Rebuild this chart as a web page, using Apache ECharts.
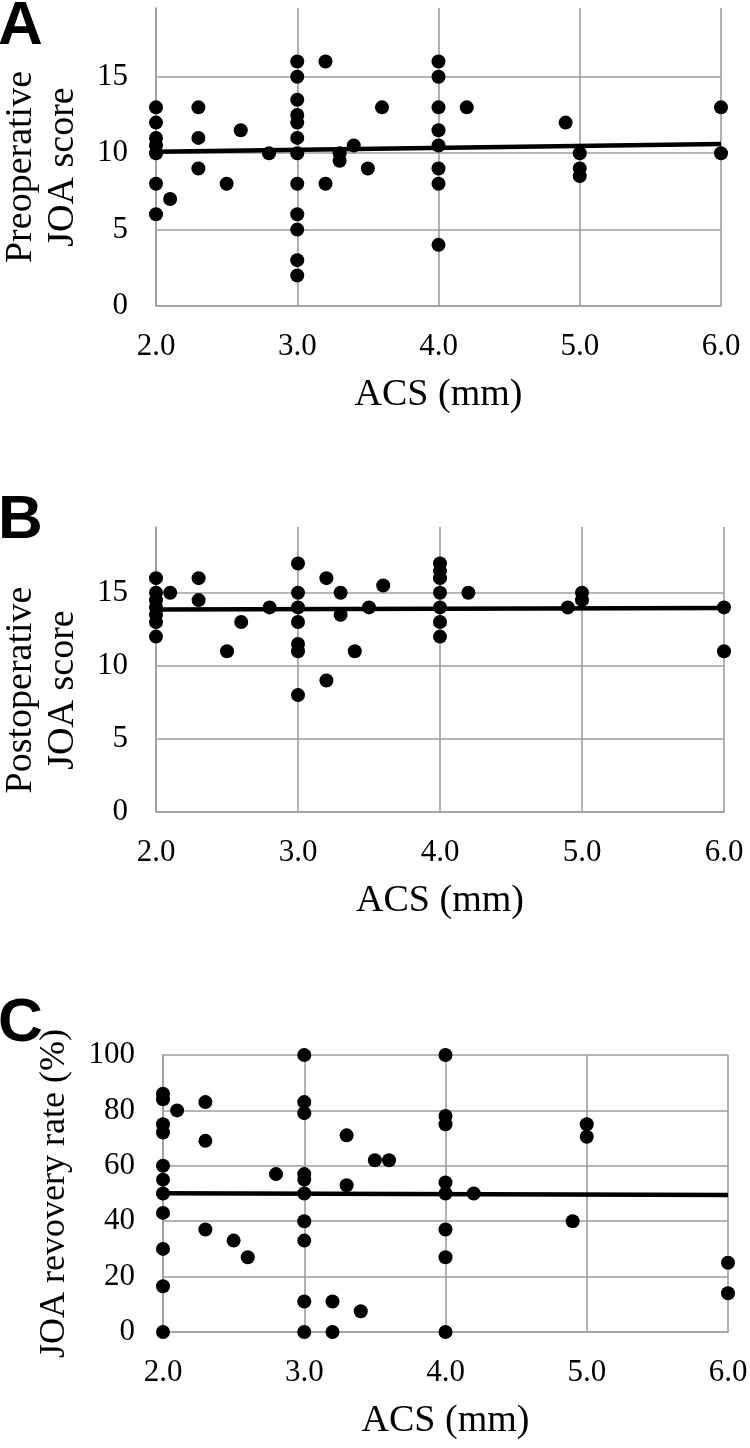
<!DOCTYPE html>
<html>
<head>
<meta charset="utf-8">
<script src="https://cdn.jsdelivr.net/npm/echarts@6/dist/echarts.min.js"></script>
<style>
html,body{margin:0;padding:0;background:#fff;}
#chart{width:750px;height:1448px;}
</style>
</head>
<body>
<div id="chart"></div>
<script>
// ---- Data ----
const xTickValues = [2, 3, 4, 5, 6];

// Panel A: ACS (mm) vs preoperative JOA score
const acsA = [2,2,2,2,2,2,2, 2.1, 2.3,2.3,2.3, 2.5, 2.6, 2.8,
  3,3,3,3,3,3,3,3,3,3,3,3, 3.2,3.2, 3.3,3.3, 3.4, 3.5, 3.6,
  4,4,4,4,4,4,4,4, 4.2, 4.9, 5,5,5, 6,6];
const preJOA = [13,12,11,10.5,10,8,6, 7, 13,11,9, 8, 11.5, 10,
  16,15,13.5,12.5,12,11,10,8,6,5,3,2, 16,8, 10,9.5, 10.5, 9, 13,
  16,15,13,11.5,10.5,9,8,4, 13, 12, 10,9,8.5, 13,10];
const trendAx = [2, 6];
const trendAy = [10.1, 10.6];

// Panel B: ACS (mm) vs postoperative JOA score
const acsB = [2,2,2,2,2,2,2, 2.1, 2.3,2.3, 2.5, 2.6, 2.8,
  3,3,3,3,3,3,3, 3.2,3.2, 3.3,3.3, 3.4, 3.5, 3.6,
  4,4,4,4,4,4,4, 4.2, 4.9, 5,5, 6,6];
const postJOA = [16,15,14.5,14,13.5,13,12, 15, 16,14.5, 11, 13, 14,
  17,15,14,13,11.5,11,8, 16,9, 15,13.5, 11, 14, 15.5,
  17,16.5,16,15,14,13,12, 15, 14, 15,14.5, 14,11];
const trendBx = [2, 6];
const trendBy = [13.85, 13.95];

// Panel C: ACS (mm) vs JOA recovery rate (%)
const acsC = [2,2,2,2,2,2,2,2,2,2,2, 2.1, 2.3,2.3,2.3, 2.5, 2.6, 2.8,
  3,3,3,3,3,3,3,3,3,3, 3.2,3.2, 3.3,3.3, 3.4, 3.5, 3.6,
  4,4,4,4,4,4,4,4, 4.2, 4.9, 5,5, 6,6];
const recoveryRate = [86,84,75,72,60,55,50,43,30,16.5,0, 80, 83,69,37, 33, 27, 57,
  100,83,79,57,55,50,40,33,11,0, 11,0, 71,53, 7.5, 62, 62,
  100,78,75,54,50,37,27,0, 50, 40, 75,70.5, 25,14];
const trendCx = [2, 6];
const trendCy = [50.1, 49.5];

const yTicksA = [0, 5, 10, 15];
const yTicksC = [0, 20, 40, 60, 80, 100];

// ---- Helpers ----
const SERIF = '"Liberation Serif", "Times New Roman", serif';
const GRIDC = '#9e9e9e';
const zip = (xs, ys) => xs.map((x, i) => [x, ys[i]]);

function xAxisCfg(gi) {
  return {
    type: 'value', gridIndex: gi, min: 2, max: 6, interval: 1,
    name: 'ACS (mm)', nameLocation: 'middle', nameGap: 70,
    nameTextStyle: { fontFamily: SERIF, fontSize: 38, color: '#000' },
    axisLine: { show: true, lineStyle: { color: GRIDC, width: 1.6 } },
    axisTick: { show: false },
    axisLabel: { margin: 25, fontFamily: SERIF, fontSize: 31, color: '#000',
      formatter: v => xTickValues.includes(v) ? v.toFixed(1) : '' },
    splitLine: { show: true, lineStyle: { color: GRIDC, width: 1.6 } }
  };
}
function yAxisCfg(gi, name, max, interval, ticks, nameGap, hideMax) {
  return {
    type: 'value', gridIndex: gi, min: 0, max: max, interval: interval,
    name: name, nameLocation: 'middle', nameGap: nameGap, nameRotate: 90,
    nameTextStyle: { fontFamily: SERIF, fontSize: 36, color: '#000', align: 'center' },
    axisLine: { show: true, lineStyle: { color: GRIDC, width: 1.6 } },
    axisTick: { show: false },
    axisLabel: { margin: 28, fontFamily: SERIF, fontSize: 31, color: '#000',
      showMaxLabel: !hideMax,
      formatter: v => ticks.includes(v) ? String(v) : '' },
    splitLine: { show: true, showMaxLine: !hideMax, lineStyle: { color: GRIDC, width: 1.6 } }
  };
}
function scatter(gi, data) {
  return { type: 'scatter', xAxisIndex: gi, yAxisIndex: gi, data: data,
    symbol: 'circle', symbolSize: 14, itemStyle: { color: '#000', opacity: 1 }, z: 3, silent: true };
}
function trend(gi, data) {
  return { type: 'line', xAxisIndex: gi, yAxisIndex: gi, data: data,
    symbol: 'none', lineStyle: { color: '#000', width: 4.5, opacity: 1 }, z: 4, silent: true };
}
function yTitle(text, cx, cy) {
  return { type: 'text', x: cx, y: cy, rotation: Math.PI / 2, silent: true,
    style: { text: text, font: '38px "Liberation Serif", "Times New Roman", serif',
      fill: '#000', align: 'center', verticalAlign: 'middle', lineHeight: 42 } };
}

const LETTER_FONT = 'bold 62px "Liberation Sans", Arial, sans-serif';
const chart = echarts.init(document.getElementById('chart'), null, { renderer: 'canvas' });
chart.setOption({
  animation: false,
  backgroundColor: '#fff',
  grid: [
    { left: 156, width: 565, top: 8, height: 298, outerBoundsMode: 'none', containLabel: false },
    { left: 156, width: 568, top: 527, height: 285, outerBoundsMode: 'none', containLabel: false },
    { left: 163, width: 565, top: 1055, height: 277, outerBoundsMode: 'none', containLabel: false }
  ],
  xAxis: [xAxisCfg(0), xAxisCfg(1), xAxisCfg(2)],
  yAxis: [
    yAxisCfg(0, '', 19.5, 5, yTicksA, 72, true),
    yAxisCfg(1, '', 19.5, 5, yTicksA, 72, true),
    yAxisCfg(2, 'JOA revovery rate (%)', 100, 20, yTicksC, 90, false)
  ],
  series: [
    scatter(0, zip(acsA, preJOA)), trend(0, zip(trendAx, trendAy)),
    scatter(1, zip(acsB, postJOA)), trend(1, zip(trendBx, trendBy)),
    scatter(2, zip(acsC, recoveryRate)), trend(2, zip(trendCx, trendCy))
  ],
  graphic: [
    yTitle('Preoperative\nJOA score', 42, 167),
    yTitle('Postoperative\nJOA score', 42, 690),
    { type: 'text', left: -2, top: -4, style: { text: 'A', font: LETTER_FONT, fill: '#000' } },
    { type: 'text', left: -2, top: 490, style: { text: 'B', font: LETTER_FONT, fill: '#000' } },
    { type: 'text', left: -2, top: 993, style: { text: 'C', font: LETTER_FONT, fill: '#000' } }
  ]
});
</script>
</body>
</html>
